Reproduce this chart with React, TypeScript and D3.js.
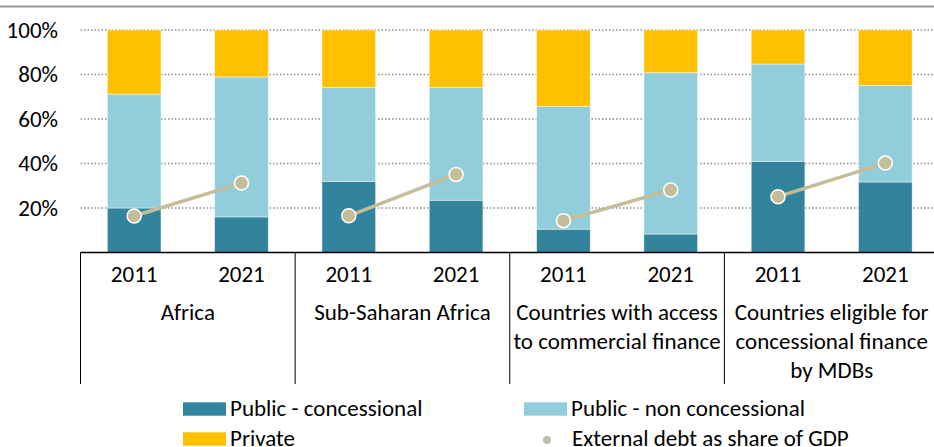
import React, { useEffect, useRef } from 'react';
import * as d3 from 'd3';

const groups = ['Africa', 'Sub-Saharan Africa', 'Countries with access to commercial finance', 'Countries eligible for concessional finance by MDBs'];
const groupLines = [['Africa'], ['Sub-Saharan Africa'], ['Countries with access', 'to commercial finance'], ['Countries eligible for', 'concessional finance', 'by MDBs']];
const years = ['2011', '2021'];
const concessional = [20, 16, 32, 23.5, 10.5, 8.3, 41, 31.7];
const nonConcessional = [51.2, 62.9, 42.1, 50.6, 55.2, 72.5, 43.7, 43.4];
const privateShare = [28.8, 21.1, 25.9, 25.9, 34.3, 19.2, 15.3, 24.9];
const debtGdp = [16.4, 31.2, 16.5, 35.1, 14.3, 28.1, 25.1, 40.2];
const yTicks = [20, 40, 60, 80, 100];

const colors = { conc: '#31849B', nonConc: '#92CDDC', priv: '#FFC000', dot: '#C4BD97' };
const font = "Carlito, 'Liberation Sans Narrow', 'Open Sans', sans-serif";
const fontSize = 23;

const width = 934;
const height = 447;
const margin = { left: 80.5, right: -5, top: 30, bottom: 194.5 };

export default function App() {
	const ref = useRef<SVGSVGElement>(null);

	useEffect(() => {
		const svg = d3.select(ref.current);
		svg.selectAll('*').remove();
		svg.style('font-family', font).style('font-size', fontSize + 'px');

		const keys = groups.flatMap((g, gi) => years.map(y => gi + '-' + y));
		const x = d3
			.scaleBand()
			.domain(keys)
			.range([margin.left, width - margin.right])
			.paddingInner(0.5)
			.paddingOuter(0.25);
		const y = d3
			.scaleLinear()
			.domain([0, 100])
			.range([height - margin.bottom, margin.top]);

		// top rule
		svg.append('line').attr('x1', 0).attr('x2', width).attr('y1', 6.5).attr('y2', 6.5).attr('stroke', '#979797').attr('stroke-width', 2);

		// gridlines
		svg
			.append('g')
			.selectAll('line')
			.data(yTicks)
			.enter()
			.append('line')
			.attr('x1', margin.left)
			.attr('x2', width)
			.attr('y1', d => y(d))
			.attr('y2', d => y(d))
			.attr('stroke', '#8c8c8c')
			.attr('stroke-width', 1.5)
			.attr('stroke-dasharray', '1.5,2');

		svg
			.append('g')
			.selectAll('text')
			.data(yTicks)
			.enter()
			.append('text')
			.attr('x', 58)
			.attr('y', d => y(d))
			.attr('dy', '0.33em')
			.attr('text-anchor', 'end')
			.attr('fill', '#000')
			.text(d => d + '%');

		// stacked bars
		const rows = keys.map((k, i) => ({ key: k, conc: concessional[i], nonConc: nonConcessional[i], priv: privateShare[i] }));
		const stack = d3.stack<any>().keys(['conc', 'nonConc', 'priv'])(rows);
		svg
			.append('g')
			.selectAll('g')
			.data(stack)
			.enter()
			.append('g')
			.attr('fill', d => (colors as any)[d.key])
			.selectAll('rect')
			.data(d => d)
			.enter()
			.append('rect')
			.attr('x', d => x(d.data.key)!)
			.attr('width', x.bandwidth())
			.attr('y', d => y(d[1]))
			.attr('height', d => y(d[0]) - y(d[1]))
			.attr('stroke', 'rgba(255,255,255,0.6)')
			.attr('stroke-width', 0.75);

		// axis line and group separators
		const axisY = y(0);
		svg.append('line').attr('x1', margin.left).attr('x2', width).attr('y1', axisY).attr('y2', axisY).attr('stroke', '#000').attr('stroke-width', 1.3);
		const step = x.step();
		const sepX = groups.map((g, gi) => x(gi + '-2011')! - step * 0.25);
		svg
			.append('g')
			.selectAll('line')
			.data(sepX)
			.enter()
			.append('line')
			.attr('x1', d => d)
			.attr('x2', d => d)
			.attr('y1', axisY)
			.attr('y2', 384)
			.attr('stroke', '#000')
			.attr('stroke-width', 1);

		// year labels
		svg
			.append('g')
			.selectAll('text')
			.data(keys)
			.enter()
			.append('text')
			.attr('x', d => x(d)! + x.bandwidth() / 2)
			.attr('y', 281.5)
			.attr('text-anchor', 'middle')
			.text(d => d.split('-')[1]);

		// group labels
		groupLines.forEach((lines, gi) => {
			const cx = (x(gi + '-2011')! + x(gi + '-2021')! + x.bandwidth()) / 2;
			lines.forEach((l, li) => {
				svg
					.append('text')
					.attr('x', cx)
					.attr('y', 320 + li * 29)
					.attr('text-anchor', 'middle')
					.text(l);
			});
		});

		// external debt line + dots
		groups.forEach((g, gi) => {
			const pts = years.map((yr, yi) => [x(gi + '-' + yr)! + x.bandwidth() / 2, y(debtGdp[gi * 2 + yi])] as [number, number]);
			svg
				.append('path')
				.attr('d', d3.line()(pts))
				.attr('fill', 'none')
				.attr('stroke', colors.dot)
				.attr('stroke-width', 3.5);
			svg
				.append('g')
				.selectAll('circle')
				.data(pts)
				.enter()
				.append('circle')
				.attr('cx', d => d[0])
				.attr('cy', d => d[1])
				.attr('r', 7)
				.attr('fill', colors.dot)
				.attr('stroke', '#fff')
				.attr('stroke-width', 1.5);
		});

		// legend
		const legend = [
			{ label: 'Public - concessional', color: colors.conc, x: 183, y: 409, type: 'rect' },
			{ label: 'Public - non concessional', color: colors.nonConc, x: 524, y: 409, type: 'rect' },
			{ label: 'Private', color: colors.priv, x: 183, y: 439, type: 'rect' },
			{ label: 'External debt as share of GDP', color: colors.dot, x: 524, y: 439, type: 'dot' },
		];
		const lg = svg.append('g');
		legend.forEach(l => {
			if (l.type === 'rect') {
				lg.append('rect').attr('x', l.x).attr('y', l.y - 6.7).attr('width', 43).attr('height', 13.4).attr('fill', l.color);
			} else {
				lg.append('circle').attr('cx', l.x + 23).attr('cy', l.y + 1).attr('r', 4).attr('fill', l.color);
			}
			lg.append('text')
				.attr('x', l.x + (l.type === 'rect' ? 47 : 48))
				.attr('y', l.y + 7)
				.text(l.label);
		});
	}, []);

	return <svg ref={ref} width={width} height={height} style={{ position: 'absolute', left: 0, top: 0, background: '#fff' }} />;
}
